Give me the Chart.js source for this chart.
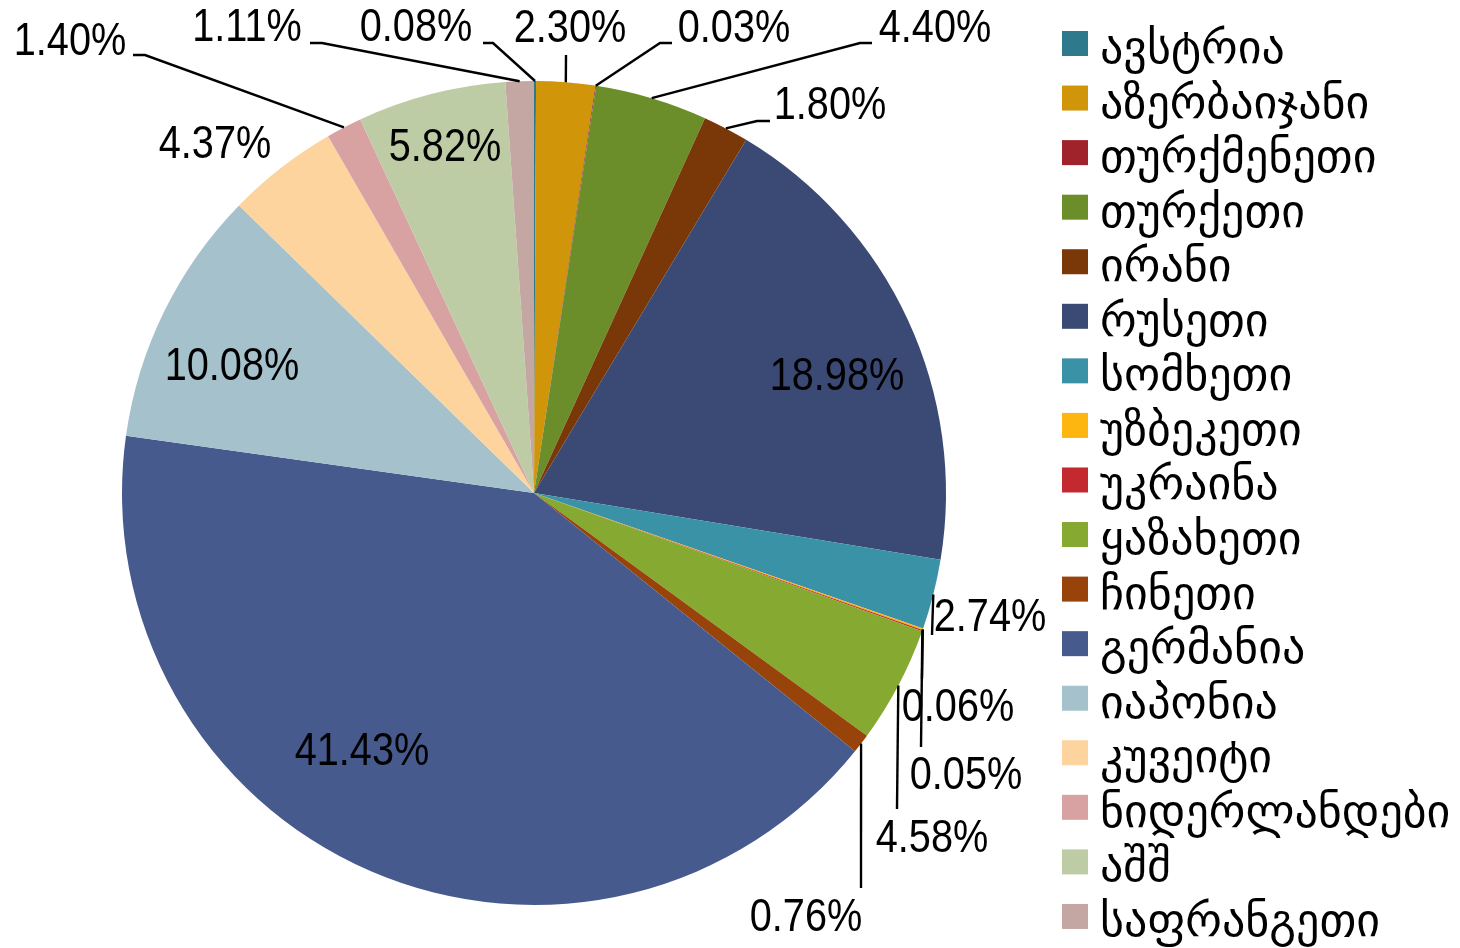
<!DOCTYPE html>
<html>
<head>
<meta charset="utf-8">
<style>
  html, body { margin: 0; padding: 0; background: #ffffff; }
  #wrap { width: 1460px; height: 948px; }
</style>
<script src="https://cdn.jsdelivr.net/npm/chart.js@4/dist/chart.umd.min.js"></script>
</head>
<body>
<div id="wrap"><canvas id="c" width="1460" height="948"></canvas></div>
<script>
// ---- data ----
const countries = ['ავსტრია','აზერბაიჯანი','თურქმენეთი','თურქეთი','ირანი','რუსეთი','სომხეთი','უზბეკეთი','უკრაინა','ყაზახეთი','ჩინეთი','გერმანია','იაპონია','კუვეიტი','ნიდერლანდები','აშშ','საფრანგეთი'];
const shares = [0.08, 2.30, 0.03, 4.40, 1.80, 18.98, 2.74, 0.06, 0.05, 4.58, 0.76, 41.43, 10.08, 4.37, 1.40, 5.82, 1.11];
const sliceColors = ['#2E7A8C','#D1950A','#A0222B','#6B8E2A','#7A3707','#3A4A74','#3A92A6','#FDB50F','#C3292F','#86A932','#984309','#475A8E','#A5C1CC','#FDD49E','#D8A2A3','#BDCCA4','#C4A7A2'];

// ---- label placement (style): text centre and leader elbow points, pixels ----
const labelLayout = [
  {t:[416,28], p:[[493,43],[483,43]]},
  {t:[570,29], p:[[566,55]]},
  {t:[734,29], p:[[660,43],[672,43]]},
  {t:[935,29], p:[[860,43],[872,43]]},
  {t:[830,106], p:[[757,121],[770,121]]},
  {t:[837,377], p:null},
  {t:[990,618], p:[[932,635]]},
  {t:[958,708], p:[[922,679]]},
  {t:[966,776], p:[[921,747]]},
  {t:[932,839], p:[[897,809]]},
  {t:[806,918], p:[[861,888]]},
  {t:[362,752], p:null},
  {t:[232,367], p:null},
  {t:[215,145], p:null},
  {t:[70,42], p:[[145,55],[133,55]]},
  {t:[445,148], p:null},
  {t:[247,28], p:[[322,43],[310,43]]}
];

const numFont = '47px "Liberation Sans", Arial, sans-serif';
const numScaleX = 0.845;
const legFont = '46px "DejaVu Sans", sans-serif';

const labelPlugin = {
  id: 'pctLabels',
  afterDatasetsDraw(chart) {
    const ctx = chart.ctx;
    const meta = chart.getDatasetMeta(0);
    ctx.save();
    ctx.strokeStyle = '#000';
    ctx.lineWidth = 2.4;
    meta.data.forEach((arc, i) => {
      const L = labelLayout[i];
      if (L.p) {
        const mid = (arc.startAngle + arc.endAngle) / 2;
        const sx = arc.x + Math.cos(mid) * arc.outerRadius;
        const sy = arc.y + Math.sin(mid) * arc.outerRadius;
        ctx.beginPath();
        ctx.moveTo(sx, sy);
        L.p.forEach(pt => ctx.lineTo(pt[0], pt[1]));
        ctx.stroke();
      }
    });
    ctx.fillStyle = '#000';
    ctx.font = numFont;
    ctx.textAlign = 'center';
    ctx.textBaseline = 'middle';
    shares.forEach((v, i) => {
      const L = labelLayout[i];
      ctx.save();
      ctx.translate(L.t[0], L.t[1] + 0.5);
      ctx.scale(numScaleX, 1);
      ctx.fillText(v.toFixed(2) + '%', 0, 0);
      ctx.restore();
    });
    ctx.restore();
  }
};

const legendPlugin = {
  id: 'sideLegend',
  afterDraw(chart) {
    const ctx = chart.ctx;
    const x0 = 1062, y0 = 31, step = 54.56;
    ctx.save();
    ctx.font = legFont;
    ctx.textAlign = 'left';
    ctx.textBaseline = 'alphabetic';
    chart.data.labels.forEach((lab, i) => {
      const y = y0 + i * step;
      ctx.fillStyle = chart.data.datasets[0].backgroundColor[i];
      ctx.fillRect(x0, y, 26, 25);
      ctx.fillStyle = '#000';
      ctx.fillText(lab, 1100, y + 32);
    });
    ctx.restore();
  }
};

new Chart(document.getElementById('c'), {
  type: 'pie',
  data: {
    labels: countries,
    datasets: [{ data: shares, backgroundColor: sliceColors, borderWidth: 0 }]
  },
  options: {
    responsive: false,
    animation: false,
    layout: { padding: { left: 122, right: 514, top: 81, bottom: 43 } },
    plugins: { legend: { display: false }, tooltip: { enabled: false } }
  },
  plugins: [labelPlugin, legendPlugin]
});
</script>
</body>
</html>
